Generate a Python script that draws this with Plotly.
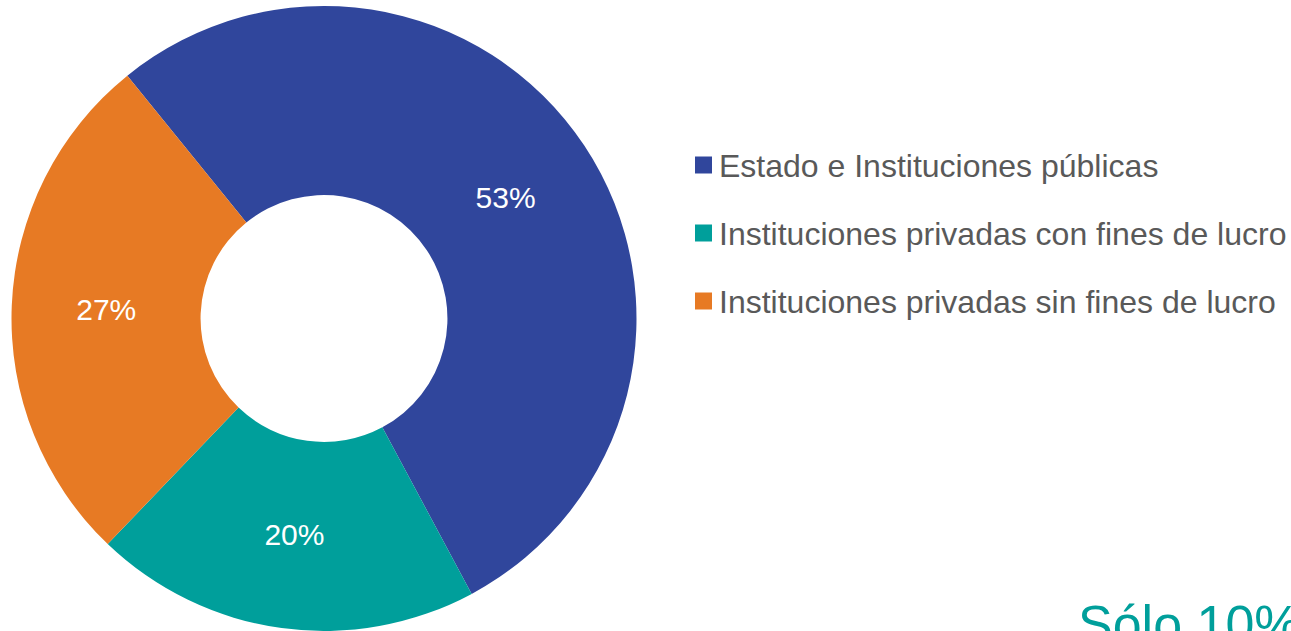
import plotly.graph_objects as go

categories = ["Estado e Instituciones públicas",
              "Instituciones privadas con fines de lucro",
              "Instituciones privadas sin fines de lucro"]
values = [53, 20, 27]
colors = ["#30469C", "#009F9B", "#E77A24"]

W, H = 1291, 631
mt, mb = 6, 0
ph = H - mt - mb
cx, R = 324, ph / 2
FONT = "Liberation Sans, Arial, sans-serif"

fig = go.Figure(go.Pie(
    labels=categories, values=values, sort=False, direction="clockwise",
    rotation=-39, hole=0.395,
    marker=dict(colors=colors, line=dict(width=0)),
    texttemplate="%{percent:.0%}", textposition="inside",
    insidetextorientation="horizontal",
    textfont=dict(family=FONT, size=30, color="white"),
    showlegend=False,
    domain=dict(x=[(cx - R) / W, (cx + R) / W], y=[0, 1]),
))

def py(pix):
    return (H - mb - pix) / ph

legend_y = [165, 233, 301]
for name, col, yy in zip(categories, colors, legend_y):
    fig.add_shape(type="rect", xref="paper", yref="paper",
                  x0=695 / W, x1=712 / W, y0=py(yy + 8.5), y1=py(yy - 8.5),
                  fillcolor=col, line=dict(width=0))
    fig.add_annotation(text=name, xref="paper", yref="paper",
                       x=717 / W, y=py(yy + 1), xanchor="left", yanchor="middle",
                       showarrow=False,
                       font=dict(family=FONT, size=32, color="#595959"))

fig.add_annotation(text="Sólo 10%", xref="paper", yref="paper",
                   x=1076 / W, y=py(593), xanchor="left", yanchor="top",
                   showarrow=False,
                   font=dict(family=FONT, size=52, color="#009F9B"))

fig.update_layout(width=W, height=H, margin=dict(l=0, r=0, t=mt, b=mb),
                  paper_bgcolor="white", plot_bgcolor="white")
fig.write_html("out.html", config={"displayModeBar": False},
               post_script="document.body.style.margin='0';document.body.style.overflow='hidden';")
